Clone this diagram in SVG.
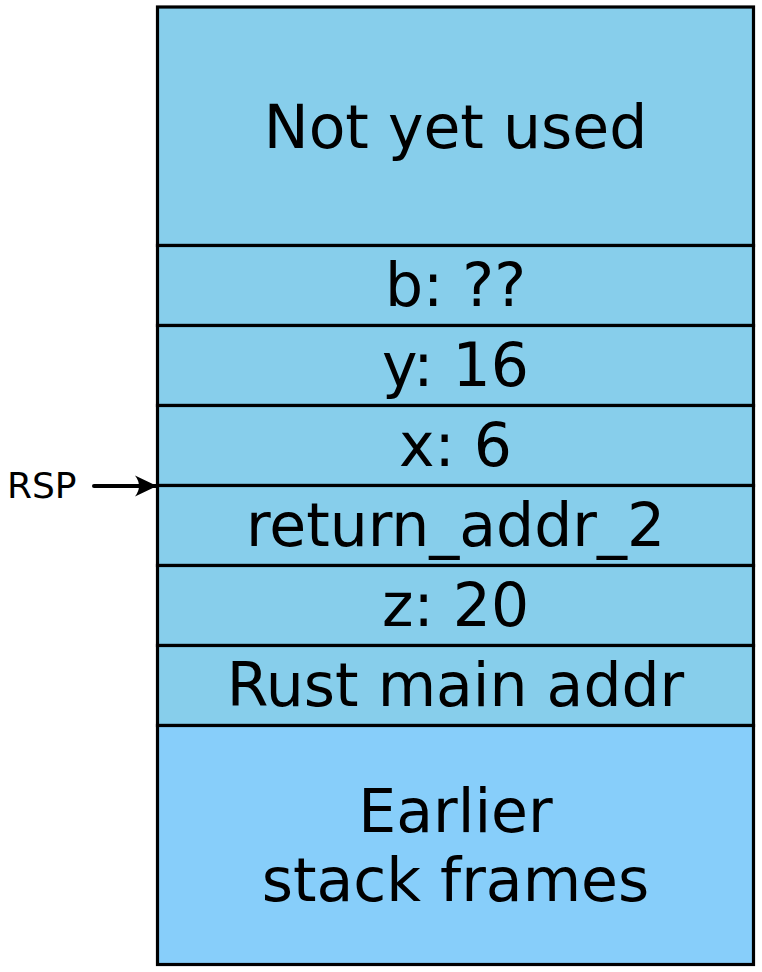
<svg xmlns="http://www.w3.org/2000/svg" width="762" height="972" viewBox="0 0 762 972">
<defs>
<style>
.cell{fill:#87CEEB;stroke:#000;stroke-width:3.2}
.old{fill:#87CEFA;stroke:#000;stroke-width:3.2}
.t{font-family:"DejaVu Sans","Noto Sans",sans-serif;font-size:60px;fill:#000;text-anchor:middle}
.lbl{font-family:"DejaVu Sans","Noto Sans",sans-serif;font-size:36px;fill:#000}
</style>
<marker id="ah" viewBox="0 0 24 22" refX="23" refY="11" markerWidth="24" markerHeight="22" markerUnits="userSpaceOnUse" orient="auto">
<path d="M1,0.5 L23,11 L1,21.5 Q9,11 1,0.5 Z" fill="#000"/>
</marker>
</defs>
<rect width="762" height="972" fill="#fff"/>
<g id="not-yet-used"><rect class="cell" x="157.5" y="7" width="596" height="238.5"/><text class="t" x="455.5" y="148">Not yet used</text></g>
<g id="b"><rect class="cell" x="157.5" y="245.5" width="596" height="80"/><text class="t" x="455.5" y="306">b: ??</text></g>
<g id="y"><rect class="cell" x="157.5" y="325.5" width="596" height="80"/><text class="t" x="455.5" y="386">y: 16</text></g>
<g id="x"><rect class="cell" x="157.5" y="405.5" width="596" height="80"/><text class="t" x="455.5" y="466">x: 6</text></g>
<g id="return-addr-2"><rect class="cell" x="157.5" y="485.5" width="596" height="80"/><text class="t" x="455.5" y="546">return_addr_2</text></g>
<g id="z"><rect class="cell" x="157.5" y="565.5" width="596" height="80"/><text class="t" x="455.5" y="626">z: 20</text></g>
<g id="rust-main-addr"><rect class="cell" x="157.5" y="645.5" width="596" height="80"/><text class="t" x="455.5" y="706">Rust main addr</text></g>
<g id="earlier-frames"><rect class="old" x="157.5" y="725.5" width="596" height="239"/><text class="t" x="455.5" y="832">Earlier</text><text class="t" x="455.5" y="901">stack frames</text></g>
<g id="rsp"><text class="lbl" x="7" y="498">RSP</text></g>
<g id="connectors"><line x1="94" y1="486" x2="157" y2="486" stroke="#000" stroke-width="4" stroke-linecap="round" marker-end="url(#ah)"/></g>
</svg>
